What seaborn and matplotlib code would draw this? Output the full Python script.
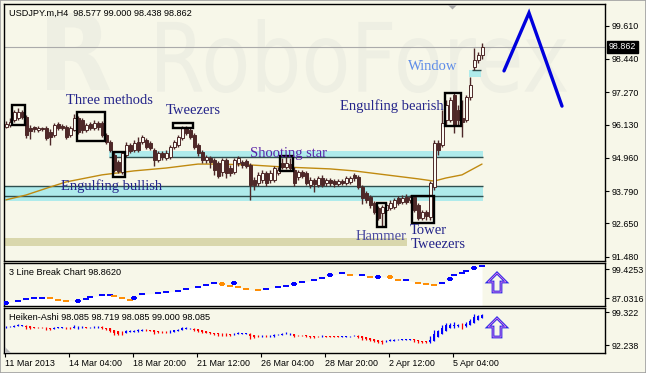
import numpy as np
import pandas as pd
import matplotlib
matplotlib.use("Agg")
import matplotlib.pyplot as plt
import matplotlib.transforms as mtransforms
from matplotlib.patches import Rectangle, Polygon, PathPatch
from matplotlib.textpath import TextPath
from matplotlib.font_manager import FontProperties
import seaborn as sns

sns.set_theme(style="white")
plt.rcParams['font.family'] = ['Liberation Sans', 'DejaVu Sans']

# ---------------- data ----------------
main_title = "USDJPY.m,H4  98.577 99.000 98.438 98.862"
lb_title = "3 Line Break Chart 98.8620"
ha_title = "Heiken-Ashi 98.085 98.719 98.085 99.000 98.085"

opens = [
    96.05, 96.12, 96.29, 96.36, 96.57, 96.40, 96.01, 96.05, 95.94, 96.01,
    96.01, 95.87, 95.76, 96.15, 96.08, 96.05, 95.76, 95.94, 96.36, 96.29,
    95.94, 96.15, 96.01, 96.19, 96.19, 95.76, 95.53, 95.06, 94.81, 94.46,
    95.06, 95.41, 95.24, 95.53, 95.53, 95.59, 95.48, 95.24, 94.88, 95.13,
    94.95, 94.99, 95.34, 95.41, 95.66, 96.01, 95.94, 95.76, 95.41, 95.16,
    94.88, 94.95, 94.88, 94.78, 94.46, 94.88, 94.60, 94.46, 94.78, 94.81,
    94.85, 94.71, 94.18, 94.07, 94.18, 94.43, 94.18, 94.18, 94.43, 94.78,
    94.64, 94.74, 94.53, 94.29, 94.46, 94.43, 94.00, 94.18, 94.00, 94.25,
    94.07, 94.18, 94.14, 94.04, 94.14, 94.07, 94.11, 94.36, 94.29, 93.93,
    93.72, 93.58, 93.37, 93.20, 93.02, 93.12, 93.20, 93.23, 93.55, 93.40,
    93.58, 93.48, 93.58, 93.30, 92.84, 93.05, 92.88, 93.93, 95.48, 95.41,
    96.29, 96.29, 97.17, 96.64, 96.36, 96.29, 97.10, 98.16, 98.40, 98.577]
highs = [
    96.26, 96.36, 96.64, 96.71, 96.64, 96.47, 96.12, 96.08, 96.08, 96.05,
    96.08, 95.97, 96.19, 96.22, 96.15, 96.12, 96.08, 96.50, 96.43, 96.36,
    96.19, 96.22, 96.29, 96.26, 96.26, 95.83, 95.59, 95.16, 94.88, 95.20,
    95.53, 95.48, 95.59, 95.69, 95.76, 95.66, 95.55, 95.31, 95.20, 95.20,
    95.24, 95.41, 95.59, 95.76, 96.08, 96.08, 96.01, 95.83, 95.48, 95.24,
    95.06, 95.02, 94.95, 94.85, 94.95, 94.95, 94.71, 94.95, 95.02, 94.88,
    94.92, 94.78, 94.29, 94.46, 94.53, 94.50, 94.53, 94.67, 94.64, 94.95,
    95.02, 94.95, 94.64, 94.53, 94.53, 94.50, 94.29, 94.25, 94.32, 94.36,
    94.25, 94.25, 94.22, 94.22, 94.22, 94.32, 94.32, 94.43, 94.36, 94.00,
    93.79, 93.65, 93.44, 93.26, 93.30, 93.37, 93.48, 93.55, 93.62, 93.65,
    93.69, 93.65, 93.65, 93.37, 93.12, 93.12, 94.14, 95.59, 95.59, 96.64,
    97.00, 97.10, 97.24, 96.82, 97.00, 97.17, 97.80, 98.83, 98.68, 99.000]
lows = [
    96.01, 96.05, 96.22, 96.29, 96.33, 95.66, 95.62, 95.87, 95.87, 95.90,
    95.59, 95.41, 95.69, 95.94, 95.94, 95.62, 95.69, 95.90, 95.80, 95.83,
    95.87, 95.94, 95.94, 95.94, 95.69, 95.45, 95.16, 94.46, 94.43, 94.39,
    94.99, 95.13, 95.16, 95.16, 95.45, 95.27, 95.24, 94.67, 94.81, 94.88,
    94.88, 94.92, 95.27, 95.34, 95.59, 95.76, 95.62, 95.27, 95.02, 94.78,
    94.78, 94.60, 94.36, 94.25, 94.32, 94.25, 94.32, 94.39, 94.67, 94.60,
    94.60, 93.48, 93.83, 93.97, 94.07, 93.97, 94.07, 94.11, 94.36, 94.57,
    94.57, 94.53, 93.97, 94.18, 94.25, 94.00, 93.90, 93.76, 93.93, 93.93,
    93.97, 93.97, 93.93, 93.97, 94.00, 94.00, 94.04, 94.14, 93.86, 93.33,
    93.37, 93.20, 92.98, 92.77, 92.56, 93.05, 93.12, 93.16, 93.30, 93.33,
    93.33, 93.37, 93.05, 92.77, 92.77, 92.77, 92.77, 93.83, 95.06, 95.34,
    96.12, 96.22, 95.83, 96.12, 95.69, 96.22, 97.00, 98.05, 98.30, 98.438]
closes = [
    96.15, 96.22, 96.57, 96.57, 96.40, 95.76, 95.90, 95.97, 96.01, 95.97,
    95.66, 95.69, 96.12, 96.01, 96.01, 95.69, 96.01, 96.36, 95.87, 95.94,
    96.12, 96.01, 96.19, 96.05, 95.76, 95.53, 95.24, 94.53, 94.50, 95.13,
    95.41, 95.20, 95.48, 95.24, 95.69, 95.34, 95.31, 94.88, 95.13, 94.99,
    95.13, 95.34, 95.53, 95.69, 96.01, 95.83, 95.69, 95.34, 95.13, 94.88,
    94.99, 94.81, 94.53, 94.32, 94.88, 94.43, 94.43, 94.88, 94.95, 94.71,
    94.67, 94.00, 94.00, 94.36, 94.43, 94.07, 94.43, 94.60, 94.53, 94.64,
    94.78, 94.60, 94.07, 94.46, 94.32, 94.07, 94.18, 94.04, 94.25, 94.00,
    94.18, 94.07, 94.04, 94.14, 94.07, 94.25, 94.25, 94.25, 93.93, 93.55,
    93.48, 93.30, 93.05, 92.84, 93.23, 93.30, 93.37, 93.48, 93.37, 93.55,
    93.40, 93.58, 93.12, 92.84, 93.05, 92.91, 94.07, 95.48, 95.24, 96.19,
    96.82, 97.00, 96.12, 96.29, 96.22, 97.10, 97.52, 98.40, 98.58, 98.862]
assert len(opens) == len(highs) == len(lows) == len(closes) == 120

last_price = 98.862

# moving average (read at selected bars)
ma_idx = [0, 5, 11, 15, 24, 32, 40, 48, 53, 61, 69, 81, 87, 95, 103, 107, 110, 114, 119]
ma_val = [93.48, 93.65, 93.93, 94.11, 94.36, 94.50, 94.60, 94.74, 94.74, 94.71,
          94.64, 94.57, 94.50, 94.36, 94.22, 94.14, 94.25, 94.36, 94.74]

# support / resistance zones: x0, x1 (bar index), lower, upper price
zone_x0 = [25.75, -0.5, -0.5, 115.75]
zone_x1 = [119.25, 119.25, 100.25, 118.75]
zone_lo = [94.99, 93.44, 91.86, 97.80]
zone_hi = [95.20, 93.97, 92.14, 98.05]
zone_col = ['#AFEBEB', '#AFEBEB', '#D9D7AC', '#AFEBEB']
zone_lines = [(94.99, 25.75, 119.25), (93.97, -0.5, 119.25),
              (93.62, -0.5, 119.25), (98.05, 116.5, 118.75)]

# pattern boxes: x0, x1 (bar index), lower, upper price
box_x0 = [1.5, 17.75, 26.75, 41.75, 68.5, 92.75, 101.5, 109.75]
box_x1 = [4.75, 24.75, 29.75, 46.75, 71.75, 95.0, 107.0, 113.75]
box_lo = [96.12, 95.55, 94.29, 96.01, 94.50, 92.52, 92.67, 96.08]
box_hi = [96.83, 96.57, 95.16, 96.19, 95.02, 93.37, 93.62, 97.24]

# forecast zigzag
zz_x = [124.5, 130.75, 139.0]
zz_y = [98.02, 100.06, 96.78]

# pattern labels
pat_text = ["Three methods", "Tweezers", "Engulfing bullish", "Shooting star",
            "Engulfing bearish", "Window", "Hammer", "Tower", "Tweezers"]
pat_color = ['#24248A', '#24248A', '#24248A', '#5A24A8', '#24248A',
             '#5E8CE8', '#4A4AA0', '#24248A', '#24248A']
pat_px = [(109, 101), (193, 111), (112, 186), (289, 153), (392, 106),
          (433, 67), (381, 237), (428, 231), (438, 245)]

# 3 line break
lb_idx = [0, 3, 5, 7, 9, 11, 13, 15, 18, 20, 21, 24, 26, 27, 29, 31, 32, 34, 38, 40,
          43, 45, 48, 50, 52, 54, 56, 57, 58, 60, 63, 65, 68, 70, 72, 74, 77, 79, 81, 84,
          86, 89, 91, 93, 96, 98, 100, 103, 105, 107, 109, 111, 112, 114, 115, 117, 119]
lb_val = [85.17, 85.74, 86.59, 87.02, 87.30, 87.30, 86.45, 86.02, 86.02, 86.88,
          87.73, 88.30, 88.30, 88.16, 87.30, 86.31, 87.02, 88.73, 89.16, 89.58,
          90.29, 91.15, 92.00, 92.86, 93.71, 93.14, 92.29, 93.71, 92.00, 90.86,
          90.44, 91.15, 92.00, 92.29, 93.14, 94.00, 94.85, 95.57, 96.85, 97.70,
          96.99, 96.99, 95.99, 96.28, 95.99, 94.85, 94.85, 93.71, 93.14, 92.72,
          93.43, 95.42, 96.85, 97.99, 98.70, 99.98, 100.98]
lb_dir = list("bbbbb" + "ooo" + "bbbbb" + "ooo" + "bbbbbbbbb" + "oo" + "b" + "ooo"
              + "bbbbbbbbb" + "o" + "b" + "o" + "b" + "oo" + "b" + "ooo" + "bbbbbbb")
lb_sq = [0, 18, 32, 54, 57, 72, 81, 93, 96, 111, 117]
assert len(lb_idx) == len(lb_val) == len(lb_dir)

xtick_labels = ["11 Mar 2013", "14 Mar 04:00", "18 Mar 20:00", "21 Mar 12:00",
                "26 Mar 04:00", "28 Mar 20:00", "2 Apr 12:00", "5 Apr 04:00"]
main_ticks = [99.610, 98.440, 97.270, 96.130, 94.960, 93.790, 92.650, 91.480]
lb_ticks = [99.4253, 87.0316]
ha_ticks = [99.322, 92.238]

# ---------------- figure ----------------
BG = '#F7F7E9'
WM = '#EEEFE3'
CANDLE = '#4E2828'
BULL = '#FBFBF3'
W, H = 646, 373
fig = plt.figure(figsize=(W / 100, H / 100), dpi=100)
fig.patch.set_facecolor(BG)


def pbox(x0, y0, x1, y1):
    return [x0 / W, 1 - y1 / H, (x1 - x0) / W, (y1 - y0) / H]


def fxy(x, y):
    return (x / W, 1 - y / H)


ax = fig.add_axes(pbox(4, 4, 605, 261))
ax3 = fig.add_axes(pbox(4, 263, 605, 306))
axh = fig.add_axes(pbox(4, 308, 605, 353))

for a in (ax, ax3, axh):
    a.set_facecolor(BG)
    for s in a.spines.values():
        s.set_visible(True)
        s.set_color('black')
        s.set_linewidth(1.0)
    a.yaxis.tick_right()
    a.tick_params(axis='y', which='both', direction='out', length=3, width=0.8,
                  colors='black', labelsize=6.4, pad=1.5, left=False, right=True,
                  labelleft=False, labelright=True)
    a.tick_params(axis='x', bottom=False, labelbottom=False)
    a.grid(False)

# watermark
fp = FontProperties(family='DejaVu Sans')
tp = TextPath((0, 0), "RoboForex", size=100, prop=fp)
e = tp.get_extents()
tr = mtransforms.Affine2D().translate(-e.x0, -e.y0).scale(410 / e.width, 74 / e.height).translate(157, H - 93)
ax.add_patch(PathPatch(tr.transform_path(tp), transform=mtransforms.IdentityTransform(),
                       fc=WM, ec='none', zorder=0.1))
tp2 = TextPath((0, 0), "R", size=100, prop=FontProperties(family='DejaVu Sans', weight='bold'))
e2 = tp2.get_extents()
tr2 = mtransforms.Affine2D().translate(-e2.x0, -e2.y0).scale(63 / e2.width, 77 / e2.height).translate(47, H - 90)
ax.add_patch(PathPatch(tr2.transform_path(tp2), transform=mtransforms.IdentityTransform(),
                       fc=WM, ec='none', zorder=0.1))

# zones
for x0, x1, lo, hi, c in zip(zone_x0, zone_x1, zone_lo, zone_hi, zone_col):
    ax.add_patch(Rectangle((x0, lo), x1 - x0, hi - lo, fc=c, ec='none', zorder=1))
for yv, x0, x1 in zone_lines:
    ax.hlines(yv, x0, x1, color='#2F4F4F', lw=1.0, zorder=1.3)

# current price line
ax.axhline(last_price, color='#ABABAB', lw=0.8, zorder=1.1)

# moving average
sns.lineplot(x=ma_idx, y=ma_val, ax=ax, color='#C08A10', lw=1.0, zorder=2, legend=False)

# candles
df = pd.DataFrame({'i': np.arange(len(closes)), 'o': opens, 'h': highs, 'l': lows, 'c': closes})
up = df['c'] >= df['o']
ax.vlines(df['i'], df['l'], df['h'], color=CANDLE, lw=1.0, zorder=3)
body_lo = np.minimum(df['o'], df['c'])
body_h = np.maximum((df['c'] - df['o']).abs(), 0.02)
ax.bar(df['i'], body_h, bottom=body_lo, width=0.75,
       color=np.where(up, BULL, CANDLE), edgecolor=CANDLE, linewidth=0.7, zorder=4)

# pattern boxes
for x0, x1, lo, hi in zip(box_x0, box_x1, box_lo, box_hi):
    ax.add_patch(Rectangle((x0, lo), x1 - x0, hi - lo, fill=False, ec='black', lw=1.7, zorder=5))

# zigzag
ax.plot(zz_x, zz_y, color='#0000DD', lw=2.4, solid_capstyle='round', solid_joinstyle='miter', zorder=5)

ax.set_xlim(-0.5, 149.75)
ax.set_ylim(91.328, 100.374)
ax.set_yticks(main_ticks)
ax.set_yticklabels([f"{v:.3f}" for v in main_ticks])
ax.set_xticks([])
ax.set_xlabel('')
ax.set_ylabel('')

# last price label
ax.text(1.0058, last_price, f"{last_price:.3f}", transform=ax.get_yaxis_transform(),
        ha='left', va='center', color='white', fontsize=6.4, zorder=10, clip_on=False,
        bbox=dict(boxstyle='square,pad=0.22', fc='black', ec='black'))

# pattern labels
for s, c, (px, py) in zip(pat_text, pat_color, pat_px):
    fig.text(*fxy(px, py), s, ha='center', va='center', fontsize=10.5,
             family='Liberation Serif', color=c, zorder=6)

# ---------------- 3 line break ----------------
LB_LO, LB_HI = 83.74, 102.12
ax3.fill_between(lb_idx, lb_val, LB_LO, color='white', lw=0, zorder=1)
col_map = {'b': '#0000FF', 'o': '#FF8C00'}
for i, v, d in zip(lb_idx, lb_val, lb_dir):
    ax3.hlines(v, i - 0.75, i + 0.75, color=col_map[d], lw=1.4, zorder=3)
sq_df = pd.DataFrame({'i': [i for i in lb_idx if i in lb_sq],
                      'v': [v for i, v in zip(lb_idx, lb_val) if i in lb_sq],
                      'd': [d for i, d in zip(lb_idx, lb_dir) if i in lb_sq]})
sns.scatterplot(data=sq_df, x='i', y='v', hue='d', palette=col_map, marker='s', s=9,
                linewidth=0, ax=ax3, legend=False, zorder=4)
ax3.set_xlim(-0.5, 149.75)
ax3.set_ylim(LB_LO, LB_HI)
ax3.set_yticks(lb_ticks)
ax3.set_yticklabels([f"{v:.4f}" for v in lb_ticks])
ax3.set_xticks([])
ax3.set_xlabel('')
ax3.set_ylabel('')

# ---------------- Heiken-Ashi (derived from OHLC) ----------------
o = np.array(opens); h = np.array(highs); l = np.array(lows); c = np.array(closes)
ha_c = (o + h + l + c) / 4
ha_o = np.empty_like(ha_c)
ha_o[0] = (o[0] + c[0]) / 2
for k in range(1, len(ha_c)):
    ha_o[k] = (ha_o[k - 1] + ha_c[k - 1]) / 2
ha_h = np.maximum.reduce([h, ha_o, ha_c])
ha_l = np.minimum.reduce([l, ha_o, ha_c])
ha_up = ha_c >= ha_o
ha_col = np.where(ha_up, '#0000FF', '#FF0000')
idx = np.arange(len(ha_c))
axh.vlines(idx, ha_l, ha_h, colors=ha_col, lw=0.9, zorder=3)
axh.bar(idx, np.maximum(np.abs(ha_c - ha_o), 0.05), bottom=np.minimum(ha_o, ha_c),
        width=0.7, color=ha_col, lw=0, zorder=4)
axh.set_xlim(-0.5, 149.75)
axh.set_ylim(90.6, 100.2)
axh.set_yticks(ha_ticks)
axh.set_yticklabels([f"{v:.3f}" for v in ha_ticks])
axh.set_xticks([-0.25 + 16 * k for k in range(len(xtick_labels))])
axh.set_xticklabels(xtick_labels, ha='left')
axh.tick_params(axis='x', bottom=True, labelbottom=True, direction='out', length=3,
                width=0.8, colors='black', labelsize=6.4, pad=1.5)
axh.set_xlabel('')
axh.set_ylabel('')

# titles
fig.text(*fxy(9, 13.5), main_title, ha='left', va='center', fontsize=6.6, color='black', zorder=6)
fig.text(*fxy(9, 272.5), lb_title, ha='left', va='center', fontsize=6.6, color='black', zorder=6)
fig.text(*fxy(9, 318), ha_title, ha='left', va='center', fontsize=6.6, color='black', zorder=6)

# up arrows
arrow = [(497, 273), (506, 282), (501, 282), (501, 292), (493, 292), (493, 282), (488, 282)]
for dy in (0, 45):
    pts = [fxy(x, y + dy) for x, y in arrow]
    fig.add_artist(Polygon(pts, closed=True, fill=False, ec='#2A2AE6', lw=2.0,
                           transform=fig.transFigure, zorder=7))
    fig.add_artist(Polygon(pts, closed=True, fill=False, ec='#E07AE8', lw=0.6,
                           transform=fig.transFigure, zorder=8))

# chart-shift markers
fig.add_artist(Polygon([fxy(448, 5), fxy(457, 5), fxy(452.5, 9.5)], closed=True,
                       fc='#A9A9A9', ec='none', transform=fig.transFigure, zorder=7))
fig.add_artist(Polygon([fxy(5, 347), fxy(5, 352.5), fxy(11, 352.5)], closed=True,
                       fc='#B4B4B4', ec='none', transform=fig.transFigure, zorder=7))

# outer frame
fig.add_artist(Rectangle((0, 0), 1, 1, transform=fig.transFigure, fill=False,
                         ec='#A0A0A0', lw=1.2, zorder=9))

fig.savefig('out.png', dpi=100, facecolor=BG)
